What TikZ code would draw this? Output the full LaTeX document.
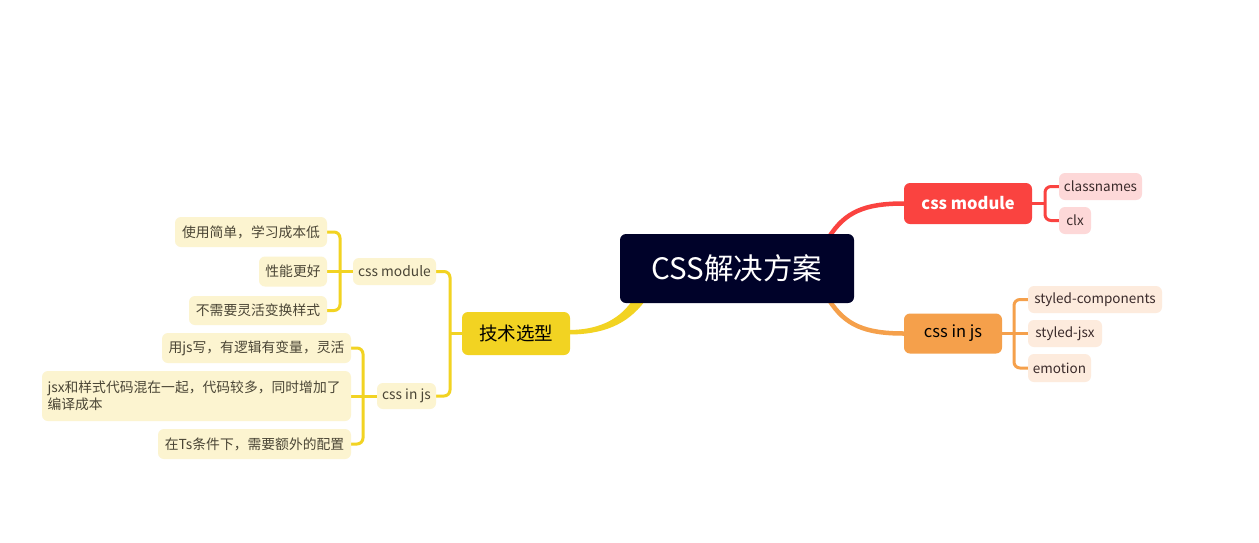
\documentclass[tikz,border=0pt]{standalone}
\usepackage{fontspec}
\setmainfont{Noto Sans CJK SC}
\usetikzlibrary{calc,backgrounds}
\definecolor{rootc}{HTML}{000229}
\definecolor{yel}{HTML}{F2D322}
\definecolor{lyel}{HTML}{FCF4D0}
\definecolor{redc}{HTML}{FA4340}
\definecolor{pinkc}{HTML}{FDD8D8}
\definecolor{orc}{HTML}{F5A04B}
\definecolor{lorc}{HTML}{FDEBDD}
\definecolor{ltxt}{HTML}{4A4535}
\definecolor{rtxt}{HTML}{3A2A2A}
\tikzset{
  box/.style={rounded corners=6pt, inner sep=0pt, align=center},
  rootbox/.style={box, fill=rootc, text=white, font=\fontsize{29.5}{34}\selectfont},
  techbox/.style={box, fill=yel, text=black, font=\fontsize{18.5}{22}\selectfont},
  redbox/.style={box, fill=redc, text=white, font=\fontsize{16.5}{20}\selectfont\bfseries},
  orbox/.style={box, fill=orc, text=black, font=\fontsize{16.5}{20}\selectfont},
  lleaf/.style={box, fill=lyel, text=ltxt, font=\fontsize{13.8}{17}\selectfont},
  pleaf/.style={box, fill=pinkc, text=rtxt, font=\fontsize{13.5}{16}\selectfont},
  oleaf/.style={box, fill=lorc, text=rtxt, font=\fontsize{13.5}{16}\selectfont},
  mainbr/.style={line width=4.5pt},
  ybr/.style={draw=yel, line width=3pt, rounded corners=6pt},
  rbr/.style={draw=redc, line width=3pt, rounded corners=6pt},
  obr/.style={draw=orc, line width=3pt, rounded corners=6pt},
}
\begin{document}
\begin{tikzpicture}[x=1pt,y=-1pt]
\useasboundingbox (0,0) rectangle (1259,542);
% main nodes
\node[rootbox, minimum width=234pt, minimum height=69pt] (root) at (737,268.5) {CSS解决方案};
\node[techbox, minimum width=108pt, minimum height=43pt] (tech) at (516,333.5) {技术选型};
\node[redbox, minimum width=128pt, minimum height=41pt] (rcm) at (968,203.5) {css module};
\node[orbox, minimum width=98pt, minimum height=40pt] (rcj) at (953,333.5) {css in js};
% right leaves
\node[pleaf, minimum width=83pt, minimum height=27pt] (cn) at (1100.5,186.5) {classnames};
\node[pleaf, minimum width=32pt, minimum height=27pt] (clx) at (1075,220.5) {clx};
\node[oleaf, minimum width=134pt, minimum height=27pt] (sc) at (1095,299.5) {styled-components};
\node[oleaf, minimum width=74pt, minimum height=27pt] (sj) at (1065,333.5) {styled-jsx};
\node[oleaf, minimum width=63pt, minimum height=28pt] (em) at (1059.5,368) {emotion};
% left level 2
\node[lleaf, minimum width=83pt, minimum height=27pt] (lcm) at (394.5,271.5) {css module};
\node[lleaf, minimum width=59pt, minimum height=26pt] (lcj) at (406.5,396) {css in js};
% left leaves
\node[lleaf, minimum width=152pt, minimum height=30pt] (a1) at (251,232) {使用简单，学习成本低};
\node[lleaf, minimum width=68pt, minimum height=30pt] (a2) at (293,271.5) {性能更好};
\node[lleaf, minimum width=138pt, minimum height=29pt] (a3) at (258,310.5) {不需要灵活变换样式};
\node[lleaf, minimum width=189pt, minimum height=30pt] (b1) at (256.5,348) {用js写，有逻辑有变量，灵活};
\node[lleaf, minimum width=309pt, minimum height=50pt, text width=298pt, align=left] (b2) at (196.5,396) {jsx和样式代码混在一起，代码较多，同时增加了\\编译成本};
\node[lleaf, minimum width=193pt, minimum height=30pt] (b3) at (254.5,444) {在Ts条件下，需要额外的配置};
% junctions
\coordinate (jt) at (450,333.5);
\coordinate (j1) at (340,271.5);
\coordinate (j2) at (363,396);
\coordinate (j3) at (1045,203.5);
\coordinate (j4) at (1014,333.5);
\begin{pgfonlayer}{background}
\fill[white] (0,0) rectangle (1259,542);
% main curves
\fill[yel] ($(root.south west)+(12,-2)$) .. controls +(-14,20) and +(28,0) .. ($(tech.east)+(-2,-3.5)$)
  -- ($(tech.east)+(-2,1)$) .. controls +(34,0) and +(-18,24) .. ($(root.south west)+(25,-2)$) -- cycle;
\draw[redc, mainbr] ($(root.north east)+(-25,3)$) .. controls +(16,-25) and +(-39,0) .. (rcm.west);
\draw[orc, mainbr] ($(root.south east)+(-25,-3)$) .. controls +(16,25) and +(-39,0) .. (rcj.west);
% branches
\draw[ybr] (tech.west) -- (jt);
\draw[ybr] (lcm.east) -| (jt) |- (lcj.east);
\draw[ybr] (a1.east) -| (j1) |- (a3.east);
\draw[ybr] (lcm.west) -- (a2.east);
\draw[ybr] (b1.east) -| (j2) |- (b3.east);
\draw[ybr] (lcj.west) -- (b2.east);
\draw[rbr] (cn.west) -| (j3) |- (clx.west);
\draw[rbr] (rcm.east) -- (j3);
\draw[obr] (sc.west) -| (j4) |- (em.west);
\draw[obr] (rcj.east) -- (sj.west);
\end{pgfonlayer}
\end{tikzpicture}
\end{document}
